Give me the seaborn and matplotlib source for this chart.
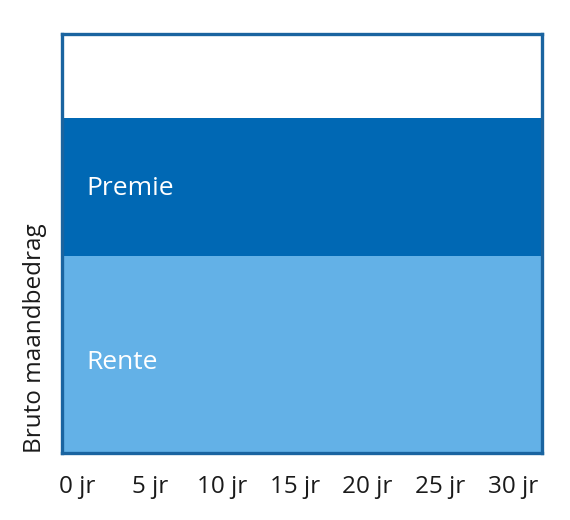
import numpy as np
import matplotlib
matplotlib.use("Agg")
import matplotlib.pyplot as plt
import seaborn as sns

# Monthly gross amount split into its parts (share of the full scale, %)
components = ["Rente", "Premie"]
amounts = [47, 33]
colors = ["#63b1e7", "#0068b4"]

# Duration axis
years = [0, 5, 10, 15, 20, 25, 30]
year_labels = ["0 jr", "5 jr", "10 jr", "15 jr", "20 jr", "25 jr", "30 jr"]

sns.set_theme(style="white")
plt.rcParams["font.family"] = ["Open Sans", "DejaVu Sans"]

fig = plt.figure(figsize=(5.7, 5.2), dpi=100)
ax = fig.add_axes([62 / 570, 67 / 520, 480 / 570, 419 / 520])

# Stacked horizontal bands, bottom to top; band names sit slightly below centre
label_shift = [-1.8, -0.3]
bottom = 0
for name, value, color, dy in zip(components, amounts, colors, label_shift):
    ax.axhspan(bottom, bottom + value, color=color, lw=0, zorder=1)
    ax.text(0.65, bottom + value / 2 + dy, name, color="white", fontsize=19,
            ha="left", va="center", zorder=3)
    bottom += value

ax.set_xlim(-1.03, 32.0)
ax.set_ylim(0, 100)

ax.set_xticks(years)
ax.set_xticklabels(year_labels, fontsize=17.5, color="#1a1a1a")
ax.set_yticks([])
ax.tick_params(axis="x", length=0, pad=16)

ax.set_ylabel("Bruto maandbedrag", fontsize=17.5, color="#1a1a1a",
              loc="bottom", labelpad=11)

for side in ax.spines.values():
    side.set_visible(True)
    side.set_color("#1a64a0")
    side.set_linewidth(2.4)
    side.set_zorder(4)

fig.savefig("out.png", dpi=100)
